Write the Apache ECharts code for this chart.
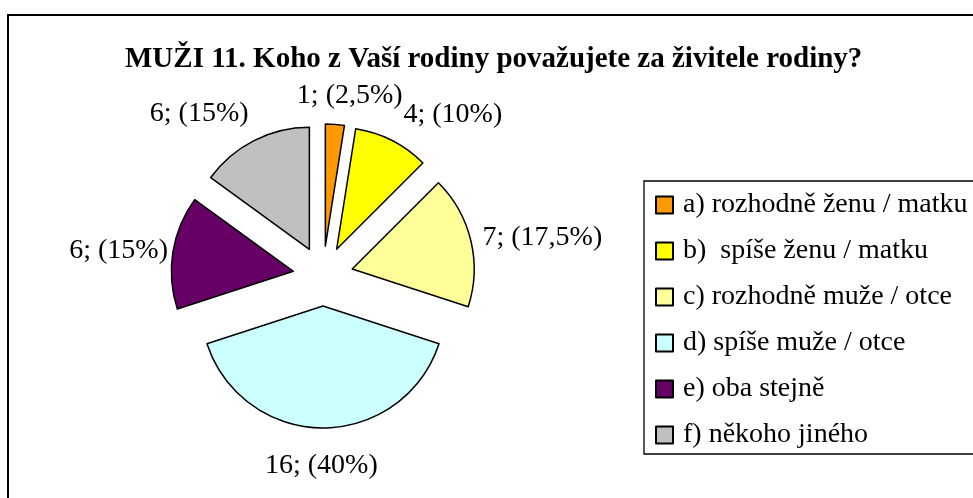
<!DOCTYPE html>
<html>
<head>
<meta charset="utf-8">
<script src="https://cdn.jsdelivr.net/npm/echarts@6/dist/echarts.min.js"></script>
<style>
  html, body { margin: 0; padding: 0; background: #fff; }
  #chart { width: 973px; height: 498px; }
</style>
</head>
<body>
<div id="chart"></div>
<script>
  var categories = [
    "a) rozhodně ženu / matku",
    "b)  spíše ženu / matku",
    "c) rozhodně muže / otce",
    "d) spíše muže / otce",
    "e) oba stejně",
    "f) někoho jiného"
  ];
  var counts = [1, 4, 7, 16, 6, 6];
  var colors = ["#FF9900", "#FFFF00", "#FFFF99", "#CCFFFF", "#660066", "#C0C0C0"];
  // small nudges so labels sit where the original places them
  var labelNudge = [[-44, -17], [1, -15], [-5, 0], [-63, 26], [12, 0], [5, -16]];

  var font = "'Liberation Serif', 'Times New Roman', serif";

  var chart = echarts.init(document.getElementById("chart"));
  chart.setOption({
    animation: false,
    title: {
      text: "MUŽI 11. Koho z Vaší rodiny považujete za živitele rodiny?",
      left: 125,
      top: 45,
      padding: 0,
      textStyle: {
        fontFamily: font,
        fontSize: 29,
        fontWeight: "bold",
        color: "#000"
      }
    },
    legend: {
      orient: "vertical",
      left: 644,
      top: 181,
      padding: [10, 40, 5, 11],
      borderColor: "#000",
      borderWidth: 1.3,
      itemWidth: 17,
      itemHeight: 17,
      itemGap: 18,
      icon: "rect",
      selectedMode: false,
      textStyle: {
        fontFamily: font,
        fontSize: 28,
        lineHeight: 28,
        padding: [0, 0, 0, 5],
        color: "#000"
      },
      data: categories
    },
    graphic: [{
      type: "rect",
      shape: { x: 8, y: 15, width: 1200, height: 700 },
      style: { fill: "none", stroke: "#000", lineWidth: 2 }
    }],
    series: [{
      type: "pie",
      center: [323, 276],
      radius: 122,
      startAngle: 90,
      clockwise: true,
      selectedMode: "multiple",
      selectedOffset: 30,
      avoidLabelOverlap: false,
      itemStyle: {
        borderColor: "#000",
        borderWidth: 1.5
      },
      label: {
        show: true,
        position: "outside",
        overflow: "none",
        fontFamily: font,
        fontSize: 28,
        color: "#000",
        formatter: function(p) {
          return p.value + "; (" + String(p.percent).replace(".", ",") + "%)";
        }
      },
      labelLine: { show: false, length: 12, length2: 0 },
      labelLayout: function(p) {
        var n = labelNudge[p.dataIndex];
        return { dx: n[0], dy: n[1], hideOverlap: false, moveOverlap: false };
      },
      emphasis: { disabled: true },
      data: categories.map(function(name, i) {
        return {
          name: name,
          value: counts[i],
          selected: true,
          itemStyle: { color: colors[i] }
        };
      })
    }]
  });
</script>
</body>
</html>
